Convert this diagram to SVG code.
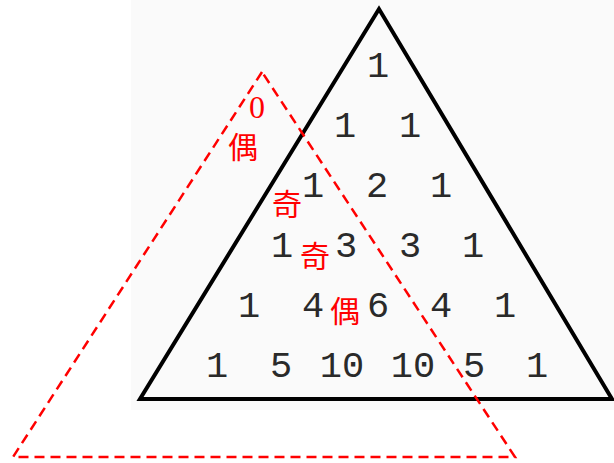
<svg xmlns="http://www.w3.org/2000/svg" width="614" height="463" viewBox="0 0 614 463">
<style>
.num{font-family:"Liberation Mono",monospace;font-size:37px;fill:#2a2a2a;text-anchor:middle}
.red{font-family:"Liberation Serif","Noto Sans CJK JP",serif;font-size:30px;fill:#ff0000;text-anchor:middle}
.zero{font-size:32px}
.tri{fill:none;stroke:#000;stroke-width:4;stroke-linejoin:miter}
.dash{fill:none;stroke:#ff0000;stroke-width:2.5;stroke-dasharray:10 6}
</style>
<rect width="614" height="463" fill="#fff"/>
<rect x="131" y="0" width="483" height="410" fill="#fafafa"/>
<g id="pascal">
<polygon class="tri" points="379,9 140,399 612,399"/>
<text class="num" x="378" y="77">1</text>
<text class="num" x="345" y="137">1</text><text class="num" x="410" y="137">1</text>
<text class="num" x="313" y="197">1</text><text class="num" x="377" y="197">2</text><text class="num" x="441" y="197">1</text>
<text class="num" x="282" y="257">1</text><text class="num" x="346" y="257">3</text><text class="num" x="410" y="257">3</text><text class="num" x="473" y="257">1</text>
<text class="num" x="249" y="317">1</text><text class="num" x="313" y="317">4</text><text class="num" x="378" y="317">6</text><text class="num" x="441" y="317">4</text><text class="num" x="505" y="317">1</text>
<text class="num" x="217" y="377">1</text><text class="num" x="281" y="377">5</text><text class="num" x="342" y="377">10</text><text class="num" x="413" y="377">10</text><text class="num" x="474" y="377">5</text><text class="num" x="537" y="377">1</text>
</g>
<g id="parity">
<polygon class="dash" points="262,72 13,457 515,457"/>
<text class="red zero" x="257" y="118">0</text>
<text class="red" x="243" y="158">偶</text>
<text class="red" x="287" y="215">奇</text>
<text class="red" x="315" y="267">奇</text>
<text class="red" x="345" y="322">偶</text>
</g>
</svg>
